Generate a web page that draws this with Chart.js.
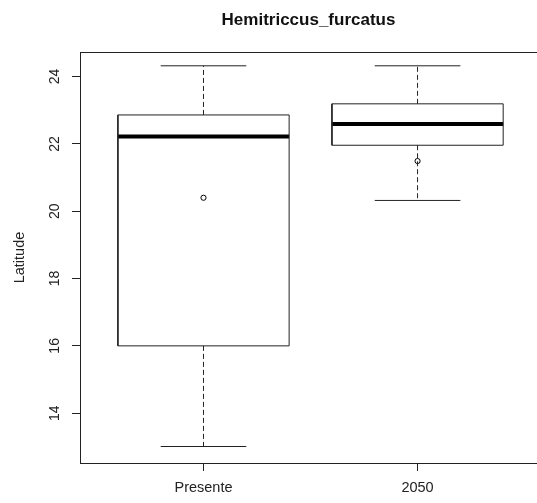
<!DOCTYPE html>
<html>
<head>
<meta charset="utf-8">
<script src="https://cdn.jsdelivr.net/npm/chart.js@4"></script>
<style>
  body { margin: 0; background: #fff; }
</style>
</head>
<body>
<canvas id="myChart" width="537" height="503"></canvas>
<script>
const categorias = ["Presente", "2050"];
const bigoteInf = [13.01, 20.32];
const cuartil1 = [16.0, 21.96];
const mediana = [22.22, 22.59];
const cuartil3 = [22.86, 23.19];
const bigoteSup = [24.32, 24.32];
const medias = [20.4, 21.49];
const ticksLatitud = [14, 16, 18, 20, 22, 24];

const anchoCaja = 0.4;
const anchoTope = 0.2;
const colorLinea = "#222";

function linea(puntos, extra) {
  return Object.assign({
    data: puntos,
    showLine: true,
    borderColor: colorLinea,
    borderWidth: 1,
    pointRadius: 0,
    fill: false,
  }, extra);
}

const datasets = [];
categorias.forEach((nombre, i) => {
  const x = i + 1;
  // caja
  datasets.push(linea([
    { x: x - anchoCaja, y: cuartil1[i] },
    { x: x + anchoCaja, y: cuartil1[i] },
    { x: x + anchoCaja, y: cuartil3[i] },
    { x: x - anchoCaja, y: cuartil3[i] },
    { x: x - anchoCaja, y: cuartil1[i] },
  ]));
  // mediana
  datasets.push(linea([
    { x: x - anchoCaja, y: mediana[i] },
    { x: x + anchoCaja, y: mediana[i] },
  ], { borderWidth: 4, borderColor: "#000", borderCapStyle: "butt" }));
  // bigotes
  datasets.push(linea([{ x, y: cuartil3[i] }, { x, y: bigoteSup[i] }], { borderDash: [5, 3] }));
  datasets.push(linea([{ x, y: cuartil1[i] }, { x, y: bigoteInf[i] }], { borderDash: [5, 3] }));
  // topes
  datasets.push(linea([{ x: x - anchoTope, y: bigoteSup[i] }, { x: x + anchoTope, y: bigoteSup[i] }]));
  datasets.push(linea([{ x: x - anchoTope, y: bigoteInf[i] }, { x: x + anchoTope, y: bigoteInf[i] }]));
});
// medias
datasets.push({
  data: medias.map((v, i) => ({ x: i + 1, y: v })),
  showLine: false,
  pointRadius: 2.6,
  pointStyle: "circle",
  borderColor: "#000",
  borderWidth: 1,
  backgroundColor: "rgba(0,0,0,0)",
});

// marco superior y etiquetas del eje y giradas, como en R
const marco = {
  id: "marco",
  afterDraw(chart) {
    const { ctx, chartArea, scales } = chart;
    ctx.save();
    ctx.strokeStyle = colorLinea;
    ctx.lineWidth = 1;
    ctx.beginPath();
    ctx.moveTo(chartArea.left, chartArea.top + 0.5);
    ctx.lineTo(chartArea.right, chartArea.top + 0.5);
    ctx.stroke();

    ctx.fillStyle = "#222";
    ctx.font = "14px 'Liberation Sans', Arial, sans-serif";
    ctx.textAlign = "center";
    ctx.textBaseline = "middle";
    scales.y.ticks.forEach((t) => {
      const py = scales.y.getPixelForValue(t.value);
      ctx.save();
      ctx.translate(55, py);
      ctx.rotate(-Math.PI / 2);
      ctx.fillText(String(t.value), 0, 0);
      ctx.restore();
    });
    ctx.restore();
  },
};

const config = {
  type: "scatter",
  data: { datasets },
  options: {
    responsive: false,
    animation: false,
    devicePixelRatio: 1,
    events: [],
    layout: { padding: 0, autoPadding: false },
    plugins: {
      legend: { display: false },
      tooltip: { enabled: false },
      title: {
        display: true,
        text: "Hemitriccus_furcatus",
        fullSize: false,
        color: "#111",
        font: { family: "'Liberation Sans', Arial, sans-serif", size: 17, weight: "bold" },
        padding: { top: 10, bottom: 21.6 },
      },
    },
    scales: {
      x: {
        type: "linear",
        min: 0.423,
        max: 2.558,
        afterBuildTicks: (s) => { s.ticks = categorias.map((c, i) => ({ value: i + 1 })); },
        afterFit: (s) => { s.height = 40; },
        ticks: {
          callback: (v) => categorias[v - 1],
          color: "#222",
          padding: 8,
          maxRotation: 0,
          font: { family: "'Liberation Sans', Arial, sans-serif", size: 14.5 },
        },
        grid: { drawOnChartArea: false, drawTicks: true, tickLength: 8, color: colorLinea },
        border: { display: true, color: colorLinea, width: 1 },
      },
      y: {
        min: 12.52,
        max: 24.73,
        afterBuildTicks: (s) => { s.ticks = ticksLatitud.map((v) => ({ value: v })); },
        afterFit: (s) => { s.width = 80; },
        ticks: { color: "rgba(0,0,0,0)", font: { size: 14 } },
        grid: { drawOnChartArea: false, drawTicks: true, tickLength: 8, color: colorLinea },
        border: { display: true, color: colorLinea, width: 1 },
        title: {
          display: true,
          text: "Latitude",
          color: "#222",
          font: { family: "'Liberation Sans', Arial, sans-serif", size: 14.5 },
          padding: { top: 11, bottom: 0 },
        },
      },
    },
  },
  plugins: [marco],
};

const myChart = new Chart(document.getElementById("myChart"), config);
</script>
</body>
</html>
